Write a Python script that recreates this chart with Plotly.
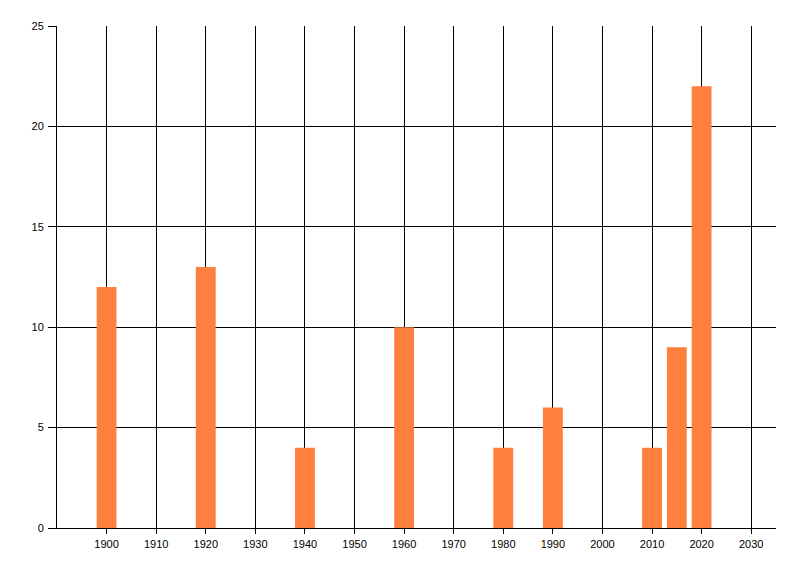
import plotly.graph_objects as go

years = [1900, 1920, 1940, 1960, 1980, 1990, 2010, 2015, 2020]
values = [12, 13, 4, 10, 4, 6, 4, 9, 22]
x_ticks = [1900, 1910, 1920, 1930, 1940, 1950, 1960, 1970, 1980, 1990, 2000, 2010, 2020, 2030]
y_ticks = [0, 5, 10, 15, 20, 25]

fig = go.Figure()
fig.add_trace(go.Bar(
    x=years, y=values, width=4,
    marker=dict(color="#FF7F3F", line=dict(width=0)),
    hoverinfo="x+y",
))

font = dict(family="Liberation Sans, Arial, sans-serif", size=11, color="#000000")

fig.update_layout(
    width=800, height=576,
    margin=dict(l=49, r=32, t=18, b=56, pad=0),
    paper_bgcolor="white", plot_bgcolor="white",
    showlegend=False,
    font=font,
    xaxis=dict(
        range=[1890, 2035], tickmode="array", tickvals=x_ticks,
        ticktext=[str(t) for t in x_ticks],
        showgrid=True, gridcolor="black", gridwidth=1,
        showline=True, linecolor="black", linewidth=1,
        ticks="outside", ticklen=5, tickcolor="black", tickwidth=1,
        zeroline=False, tickfont=font, ticklabelstandoff=1,
    ),
    yaxis=dict(
        range=[0, 25], tickmode="array", tickvals=y_ticks,
        showgrid=True, gridcolor="black", gridwidth=1,
        showline=True, linecolor="black", linewidth=1,
        ticks="outside", ticklen=8, tickcolor="black", tickwidth=1,
        zeroline=False, tickfont=font, ticklabelstandoff=2,
    ),
)

fig.write_html("out.html")
